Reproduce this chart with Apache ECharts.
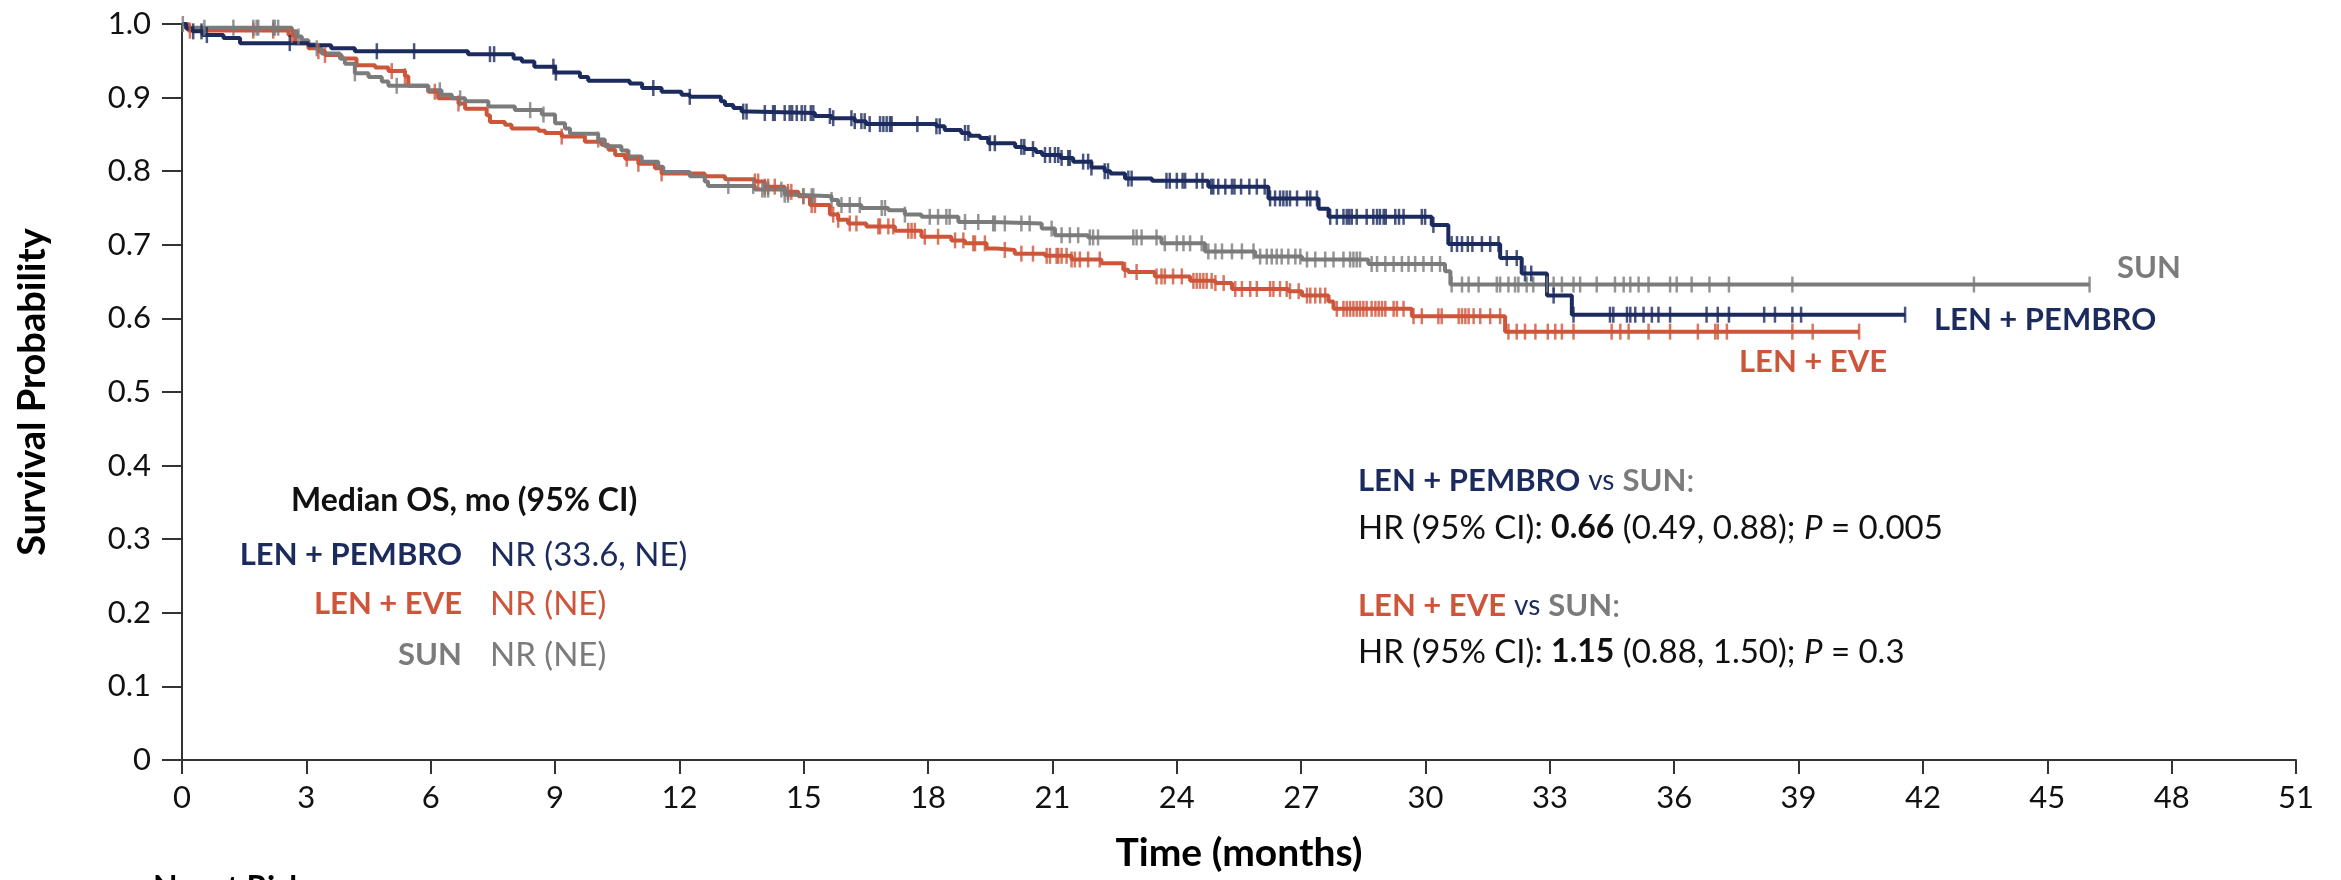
<!DOCTYPE html>
<html>
<head>
<meta charset="utf-8">
<title>Overall survival</title>
<script src="https://cdn.jsdelivr.net/npm/echarts@6/dist/echarts.min.js"></script>
<style>
  html, body { margin: 0; padding: 0; background: #fff; }
  #main { width: 2341px; height: 880px; }
</style>
</head>
<body>
<div id="main"></div>
<script>
// step points [time (months), survival]
const pembroSteps = [
  [0, 1.0], [0.1, 0.994], [0.25, 0.990], [0.5, 0.985], [1.0, 0.981], [1.4, 0.974],
  [3.05, 0.971], [3.6, 0.967], [4.17, 0.963], [6.9, 0.959], [8.0, 0.953], [8.2, 0.949],
  [8.5, 0.942], [9.0, 0.934], [9.6, 0.928], [9.8, 0.923], [10.8, 0.919], [11.1, 0.913],
  [11.57, 0.908], [12.05, 0.904], [12.25, 0.901], [13.0, 0.895], [13.1, 0.890], [13.3, 0.886],
  [13.5, 0.881], [13.7, 0.879], [15.27, 0.875], [15.67, 0.872], [16.23, 0.868], [16.5, 0.864],
  [18.2, 0.861], [18.4, 0.856], [18.8, 0.852], [19.0, 0.848], [19.25, 0.845], [19.45, 0.838],
  [20.1, 0.833], [20.33, 0.830], [20.6, 0.826], [20.75, 0.822], [21.2, 0.818], [21.5, 0.813],
  [21.94, 0.805], [22.26, 0.800], [22.4, 0.797], [22.75, 0.790], [23.4, 0.787], [24.76, 0.779],
  [26.21, 0.763], [27.42, 0.749], [27.66, 0.738], [30.15, 0.727], [30.55, 0.701], [31.8, 0.682],
  [32.32, 0.661], [32.93, 0.631], [33.53, 0.605], [41.57, 0.605]
];
const eveSteps = [
  [0, 1.0], [0.15, 0.991], [2.57, 0.985], [2.73, 0.974], [3.05, 0.967], [3.29, 0.963],
  [3.45, 0.958], [3.85, 0.953], [4.21, 0.944], [4.66, 0.941], [4.98, 0.936], [5.38, 0.929],
  [5.46, 0.916], [5.94, 0.908], [6.18, 0.899], [6.67, 0.892], [6.83, 0.885], [7.35, 0.876],
  [7.43, 0.867], [7.79, 0.863], [7.95, 0.858], [8.6, 0.855], [8.76, 0.852], [9.16, 0.847],
  [9.72, 0.840], [10.12, 0.836], [10.29, 0.829], [10.45, 0.822], [10.69, 0.817], [11.01, 0.810],
  [11.41, 0.804], [11.57, 0.797], [12.61, 0.793], [13.1, 0.789], [13.82, 0.786], [14.06, 0.779],
  [14.54, 0.772], [14.87, 0.766], [15.15, 0.754], [15.63, 0.741], [15.83, 0.734], [16.07, 0.729],
  [16.51, 0.725], [17.2, 0.719], [17.84, 0.711], [18.56, 0.706], [18.89, 0.702], [19.41, 0.695],
  [19.65, 0.693], [20.09, 0.688], [20.82, 0.685], [21.46, 0.680], [22.18, 0.675], [22.71, 0.666],
  [22.83, 0.663], [23.47, 0.657], [24.32, 0.651], [24.93, 0.648], [25.33, 0.640], [26.69, 0.637],
  [27.02, 0.631], [27.66, 0.623], [27.78, 0.613], [29.67, 0.603], [31.92, 0.582], [40.46, 0.582]
];
const sunSteps = [
  [0, 1.0], [0.1, 0.995], [2.65, 0.990], [2.77, 0.983], [2.89, 0.978], [3.05, 0.972],
  [3.21, 0.967], [3.37, 0.960], [3.81, 0.953], [3.93, 0.946], [4.17, 0.933], [4.5, 0.928],
  [4.82, 0.922], [4.98, 0.916], [5.94, 0.910], [6.26, 0.904], [6.51, 0.899], [6.83, 0.895],
  [7.39, 0.888], [8.03, 0.883], [8.68, 0.877], [9.0, 0.865], [9.24, 0.858], [9.36, 0.851],
  [10.04, 0.843], [10.2, 0.834], [10.6, 0.828], [10.77, 0.820], [11.09, 0.813], [11.49, 0.806],
  [11.61, 0.799], [12.25, 0.793], [12.61, 0.786], [12.69, 0.780], [13.82, 0.775], [14.54, 0.768],
  [14.79, 0.766], [15.67, 0.761], [15.83, 0.754], [16.39, 0.750], [17.04, 0.747], [17.44, 0.741],
  [17.84, 0.738], [18.73, 0.731], [19.53, 0.729], [20.74, 0.722], [21.06, 0.713], [21.86, 0.710],
  [23.63, 0.702], [24.68, 0.691], [25.89, 0.684], [27.02, 0.680], [28.62, 0.674], [30.47, 0.664],
  [30.6, 0.646], [46.02, 0.646]
];

// censored observations (months)
const pembroCensor = [
  0.27, 0.47, 0.6, 2.6, 4.7, 5.6, 7.43, 7.53, 8.96, 9.02, 11.37,
  12.25, 13.54, 13.62, 14.06, 14.26, 14.3, 14.54, 14.66, 14.72, 14.83, 14.95, 15.03, 15.17, 15.23,
  15.63, 15.71, 16.15, 16.23, 16.39, 16.47, 16.59, 16.84, 16.92, 17.0, 17.08, 17.12, 17.74, 18.2,
  18.28, 18.89, 18.97, 19.49, 19.61, 20.25, 20.32, 20.53, 20.82, 20.94, 21.06, 21.14, 21.22, 21.38,
  21.42, 21.74, 21.86, 21.94, 22.26, 22.34, 22.83, 22.91, 23.75, 23.83,
  24.0, 24.14, 24.2, 24.48, 24.62, 24.83, 24.88, 25.0, 25.17, 25.33, 25.39, 25.55, 25.75, 25.93,
  26.12, 26.25, 26.37, 26.49, 26.57, 26.65, 26.73, 26.9, 27.14, 27.22, 27.38, 27.7, 27.86, 28.02,
  28.1, 28.16, 28.22, 28.34, 28.58, 28.74, 28.83, 28.9, 28.99, 29.04, 29.27, 29.36, 29.47, 29.91,
  29.99, 30.19, 30.63, 30.76, 30.88, 31.02, 31.13, 31.36, 31.56, 31.76, 31.96, 32.2, 32.4, 32.55,
  33.09, 33.57, 34.45, 34.53, 34.86, 34.94, 35.06, 35.26, 35.46, 35.62, 35.9,
  36.78, 37.05, 37.32, 38.17, 38.43, 38.85, 39.06, 41.57
];
const eveCensor = [
  0.19, 1.72, 2.2, 2.65, 3.29, 3.45, 5.06, 5.38, 6.1, 6.67, 9.16, 10.73, 11.01, 11.57,
  13.82, 13.9, 14.06, 14.14, 14.3, 14.62, 14.7, 14.99, 15.19, 15.27, 15.71, 15.83, 16.11, 16.27,
  16.8, 16.84, 17.04, 17.16, 17.52, 17.6, 17.68, 17.92, 18.24, 18.65, 18.85, 19.09, 19.13, 19.37,
  19.85, 20.25, 20.53, 20.86, 20.94, 21.1, 21.14, 21.22, 21.34, 21.46, 21.54, 21.66, 21.86, 22.14,
  22.75, 23.03, 23.51, 23.63, 23.71, 23.91,
  24.12, 24.4, 24.48, 24.56, 24.64, 24.72, 24.84, 24.93, 25.13, 25.41, 25.57, 25.77, 25.93, 26.25,
  26.33, 26.49, 26.65, 26.73, 26.94, 27.14, 27.22, 27.34, 27.46, 27.58, 27.86, 28.02, 28.1, 28.18,
  28.26, 28.34, 28.42, 28.5, 28.58, 28.7, 28.79, 28.87, 28.95, 29.03, 29.23, 29.31, 29.47, 29.71,
  29.91, 30.31, 30.39, 30.8, 30.88, 30.96, 31.04, 31.16, 31.32, 31.56, 31.8, 32.0, 32.2, 32.4,
  32.65, 32.95, 33.13, 33.29, 33.57, 34.49, 34.7, 34.9, 35.38, 35.9,
  36.57, 36.99, 37.05, 37.27, 38.85, 39.34, 40.46
];
const sunCensor = [
  0.02, 0.54, 1.24, 1.72, 1.8, 1.84, 2.2, 2.24, 2.32, 2.81, 3.25, 4.17, 5.18, 6.22, 6.71, 8.4,
  8.72, 10.04,
  13.18, 13.78, 14.0, 14.06, 14.14, 14.46, 14.54, 14.62, 14.99, 15.19, 15.23, 15.67, 15.91, 16.11,
  16.35, 16.88, 16.96, 17.44, 18.04, 18.24, 18.44, 18.52, 18.89, 19.21, 19.57, 19.61, 19.85, 20.25,
  20.45, 20.98, 21.22, 21.42, 21.62, 21.9, 21.98, 22.1, 22.95, 23.03, 23.15, 23.51, 23.71,
  24.0, 24.16, 24.32, 24.6, 24.76, 24.93, 25.09, 25.33, 25.57, 25.85, 26.01, 26.17, 26.29, 26.41,
  26.53, 26.69, 26.86, 26.98, 27.14, 27.34, 27.58, 27.78, 28.02, 28.18, 28.26, 28.34, 28.42, 28.7,
  28.83, 29.03, 29.23, 29.43, 29.59, 29.75, 29.95, 30.15, 30.35, 30.63, 30.88, 31.04, 31.28, 31.72,
  31.8, 32.0, 32.16, 32.24, 32.44, 32.6, 32.93, 33.09, 33.29, 33.57, 33.73, 34.13, 34.57, 34.78,
  34.94, 35.14, 35.38, 35.9, 36.06, 36.42, 36.85, 37.32, 38.85, 43.23, 46.02
];

const NAVY = '#1c2b5e';
const ORANGE = '#cd553a';
const GRAY = '#7b7b7b';
const FONT = 'Lato';

// survival value of a step curve at time t
function survivalAt(steps, t) {
  let s = steps[0][1];
  for (const p of steps) {
    if (p[0] <= t) s = p[1];
    else break;
  }
  return s;
}

function kmLine(name, steps, color) {
  return {
    name: name,
    type: 'line',
    step: 'end',
    data: steps,
    symbol: 'none',
    lineStyle: { color: color, width: 4 },
    z: 3
  };
}

function censorMarks(name, steps, times, color) {
  return {
    name: name,
    type: 'scatter',
    data: times.map(t => [t, survivalAt(steps, t)]),
    symbol: 'rect',
    symbolSize: [2.5, 16],
    itemStyle: { color: color },
    z: 4
  };
}

const chart = echarts.init(document.getElementById('main'));

const txt = (x, y, text, rich, align) => ({
  type: 'text',
  x: x,
  y: y,
  style: {
    text: text,
    rich: rich,
    align: align || 'left',
    verticalAlign: 'middle',
    fontFamily: FONT,
    fontSize: 31,
    fill: '#000'
  }
});

const rich = {
  k: { fontFamily: FONT, fontSize: 33, fill: '#111' },
  kb: { fontFamily: FONT, fontSize: 32, fontWeight: 'bold', fill: '#111' },
  ki: { fontFamily: FONT, fontSize: 33, fontStyle: 'italic', fill: '#111' },
  nb: { fontFamily: FONT, fontSize: 31, fontWeight: 'bold', fill: NAVY },
  n: { fontFamily: FONT, fontSize: 33, fill: NAVY },
  ob: { fontFamily: FONT, fontSize: 31, fontWeight: 'bold', fill: ORANGE },
  o: { fontFamily: FONT, fontSize: 33, fill: ORANGE },
  gb: { fontFamily: FONT, fontSize: 31, fontWeight: 'bold', fill: GRAY },
  g: { fontFamily: FONT, fontSize: 33, fill: GRAY },
  vs: { fontFamily: FONT, fontSize: 28, fill: NAVY }
};

chart.setOption({
  animation: false,
  backgroundColor: '#fff',
  grid: { left: 182, right: 45, top: 24, bottom: 120, containLabel: false, outerBoundsMode: 'none' },
  xAxis: {
    type: 'value',
    min: 0,
    max: 51,
    interval: 3,
    axisLine: { lineStyle: { color: '#333', width: 2 } },
    axisTick: { length: 14, lineStyle: { color: '#333', width: 2 } },
    splitLine: { show: false },
    axisLabel: { fontFamily: FONT, fontSize: 31, color: '#111', margin: 22 },
    name: 'Time (months)',
    nameLocation: 'middle',
    nameGap: 74,
    nameTextStyle: { fontFamily: FONT, fontSize: 39, fontWeight: 'bold', color: '#000' }
  },
  yAxis: {
    type: 'value',
    min: 0,
    max: 1,
    interval: 0.1,
    axisLine: { show: true, lineStyle: { color: '#333', width: 2 } },
    axisTick: { show: true, length: 20, lineStyle: { color: '#333', width: 2 } },
    splitLine: { show: false },
    axisLabel: {
      fontFamily: FONT, fontSize: 31, color: '#111', margin: 31,
      formatter: v => v === 0 ? '0' : v.toFixed(1)
    },
    name: 'Survival Probability',
    nameLocation: 'middle',
    nameGap: 130,
    nameRotate: 90,
    nameTextStyle: { fontFamily: FONT, fontSize: 38, fontWeight: 'bold', color: '#000' }
  },
  series: [
    kmLine('LEN + EVE', eveSteps, ORANGE),
    censorMarks('LEN + EVE censored', eveSteps, eveCensor, ORANGE),
    kmLine('SUN', sunSteps, GRAY),
    censorMarks('SUN censored', sunSteps, sunCensor, GRAY),
    kmLine('LEN + PEMBRO', pembroSteps, NAVY),
    censorMarks('LEN + PEMBRO censored', pembroSteps, pembroCensor, NAVY)
  ],
  graphic: [
    // curve labels
    txt(2117, 268, '{gb|SUN}', rich),
    txt(1934, 320, '{nb|LEN + PEMBRO}', rich),
    txt(1739, 362, '{ob|LEN + EVE}', rich),
    // median OS block
    txt(291, 501, '{kb|Median OS, mo (95% CI)}', rich),
    txt(462, 555, '{nb|LEN + PEMBRO}', rich, 'right'),
    txt(490, 555, '{n|NR (33.6, NE)}', rich),
    txt(462, 604, '{ob|LEN + EVE}', rich, 'right'),
    txt(490, 604, '{o|NR (NE)}', rich),
    txt(462, 655, '{gb|SUN}', rich, 'right'),
    txt(490, 655, '{g|NR (NE)}', rich),
    // hazard ratios
    txt(1358, 481, '{nb|LEN + PEMBRO} {vs|vs} {gb|SUN}{g|:}', rich),
    txt(1358, 528, '{k|HR (95% CI): }{kb|0.66}{k| (0.49, 0.88); }{ki|P}{k| = 0.005}', rich),
    txt(1358, 606, '{ob|LEN + EVE} {vs|vs} {gb|SUN}{g|:}', rich),
    txt(1358, 652, '{k|HR (95% CI): }{kb|1.15}{k| (0.88, 1.50); }{ki|P}{k| = 0.3}', rich),
    // risk table heading, cut by the page edge
    {
      type: 'text', x: 153, y: 873,
      style: { text: 'No. at Risk', fontFamily: FONT, fontSize: 32, fontWeight: 'bold', fill: '#000', align: 'left', verticalAlign: 'top' }
    }
  ]
});
</script>
</body>
</html>
